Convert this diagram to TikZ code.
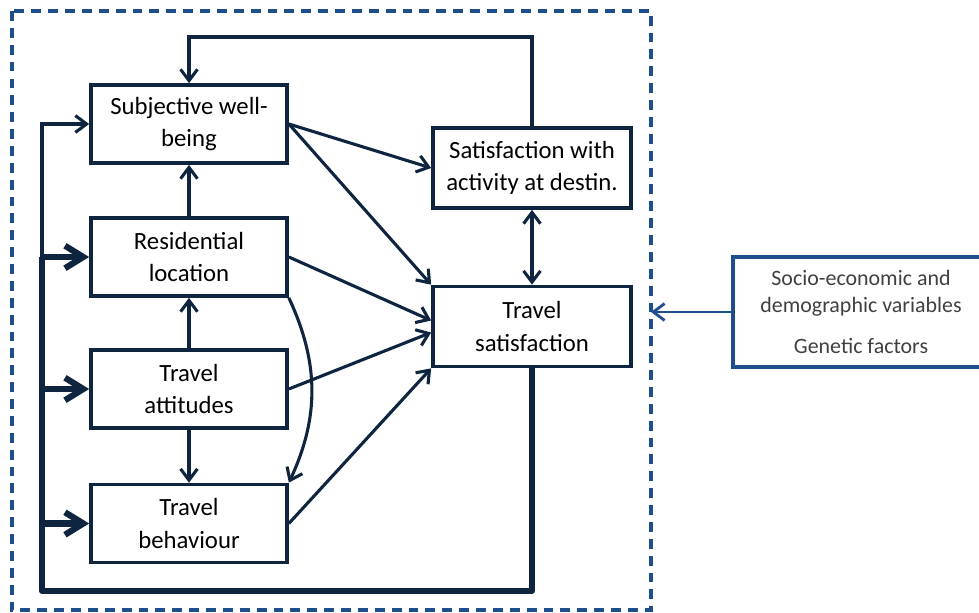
\documentclass[tikz,border=0pt]{standalone}
\usepackage{fontspec}
\setmainfont{Carlito}
\usepackage{tikz}
\usetikzlibrary{
    calc,positioning,arrows.meta,shapes
}
\definecolor{navy}{HTML}{0F243E}
\definecolor{frameblue}{HTML}{1F4E8C}
\definecolor{textgrey}{HTML}{404040}
\tikzset{
    block/.style={rectangle, minimum width=4.9cm, minimum height=1.95cm, draw=navy, line width=2.6pt, text centered, align=center, inner sep=1pt, font=\fontsize{17.6}{22.8}\selectfont},
    big_block/.style={block, minimum width=4.95cm, minimum height=2cm},
    ext_block/.style={rectangle, minimum width=6.4cm, minimum height=2.75cm, draw=frameblue, line width=2.2pt, text centered, align=center, text=textgrey, font=\fontsize{15.6}{19}\selectfont},
    line/.style={-{Straight Barb[length=8pt,width=12pt]}, navy, line width=2.2pt},
    dline/.style={{Straight Barb[length=8pt,width=12pt]}-{Straight Barb[length=8pt,width=12pt]}, navy, line width=2.2pt},
    bus/.style={navy, line width=4.4pt, line join=round},
    busline/.style={-{Straight Barb[length=13pt,width=16pt]}, navy, line width=4.4pt},
    ext_line/.style={-{Straight Barb[length=8pt,width=12pt]}, frameblue, line width=2pt},
    frame/.style={draw=frameblue, line width=2.2pt, dash pattern=on 7pt off 5pt},
}
\begin{document}
\begin{tikzpicture}
        [x=0.025cm, y=-0.025cm]
        \useasboundingbox (0,0) rectangle (979,612);

        % Frame of the model
        \draw[frame] (12,11) rectangle (651,610);

        % Nodes of the model
        \node[block] (sub) at (189,124) {Subjective well-\\being};
        \node[block] (res) at (189,257) {Residential\\location};
        \node[block] (att) at (189,389) {Travel\\attitudes};
        \node[block] (beh) at (189,523.5) {Travel\\behaviour};
        \node[big_block] (act) at (532,168) {Satisfaction with\\activity at destin.};
        \node[big_block] (tsat) at (532,326.5) {Travel\\satisfaction};
        \node[ext_block] (socio) at (861,312) {Socio-economic and\\demographic variables\\[10pt]Genetic factors};

        % Helper points
        \coordinate (top) at (360,37);
        \coordinate (bus) at (42,591);
        \coordinate (edge) at (651,312);

        % Lines
        \draw[line] (act.north) |- (top) -| (sub.north);
        \draw[line] (res) -- (sub);
        \draw[line] (att) -- (res);
        \draw[line] (att) -- (beh);
        \draw[line] (res.south east) to[out=-65,in=65] (beh.north east);
        \draw[line] (sub.east) -- (act.west);
        \draw[line] (sub.east) -- (tsat.north west);
        \draw[line] (res.east) -- ($(tsat.west)+(0,-6)$);
        \draw[line] (att.east) -- ($(tsat.west)+(0,6)$);
        \draw[line] (beh.east) -- (tsat.south west);
        \draw[dline] (act) -- (tsat);

        % Feedback from travel satisfaction
        \draw[bus] (tsat.south) |- (bus) -- (bus |- res.west);
        \draw[busline] (bus |- res.west) -- (res.west);
        \draw[busline] (bus |- att.west) -- (att.west);
        \draw[busline] (bus |- beh.west) -- (beh.west);
        \draw[line] (bus |- res.west) |- (sub.west);

        % External factors
        \draw[ext_line] (socio.west) -- (edge);

    \end{tikzpicture}
\end{document}
